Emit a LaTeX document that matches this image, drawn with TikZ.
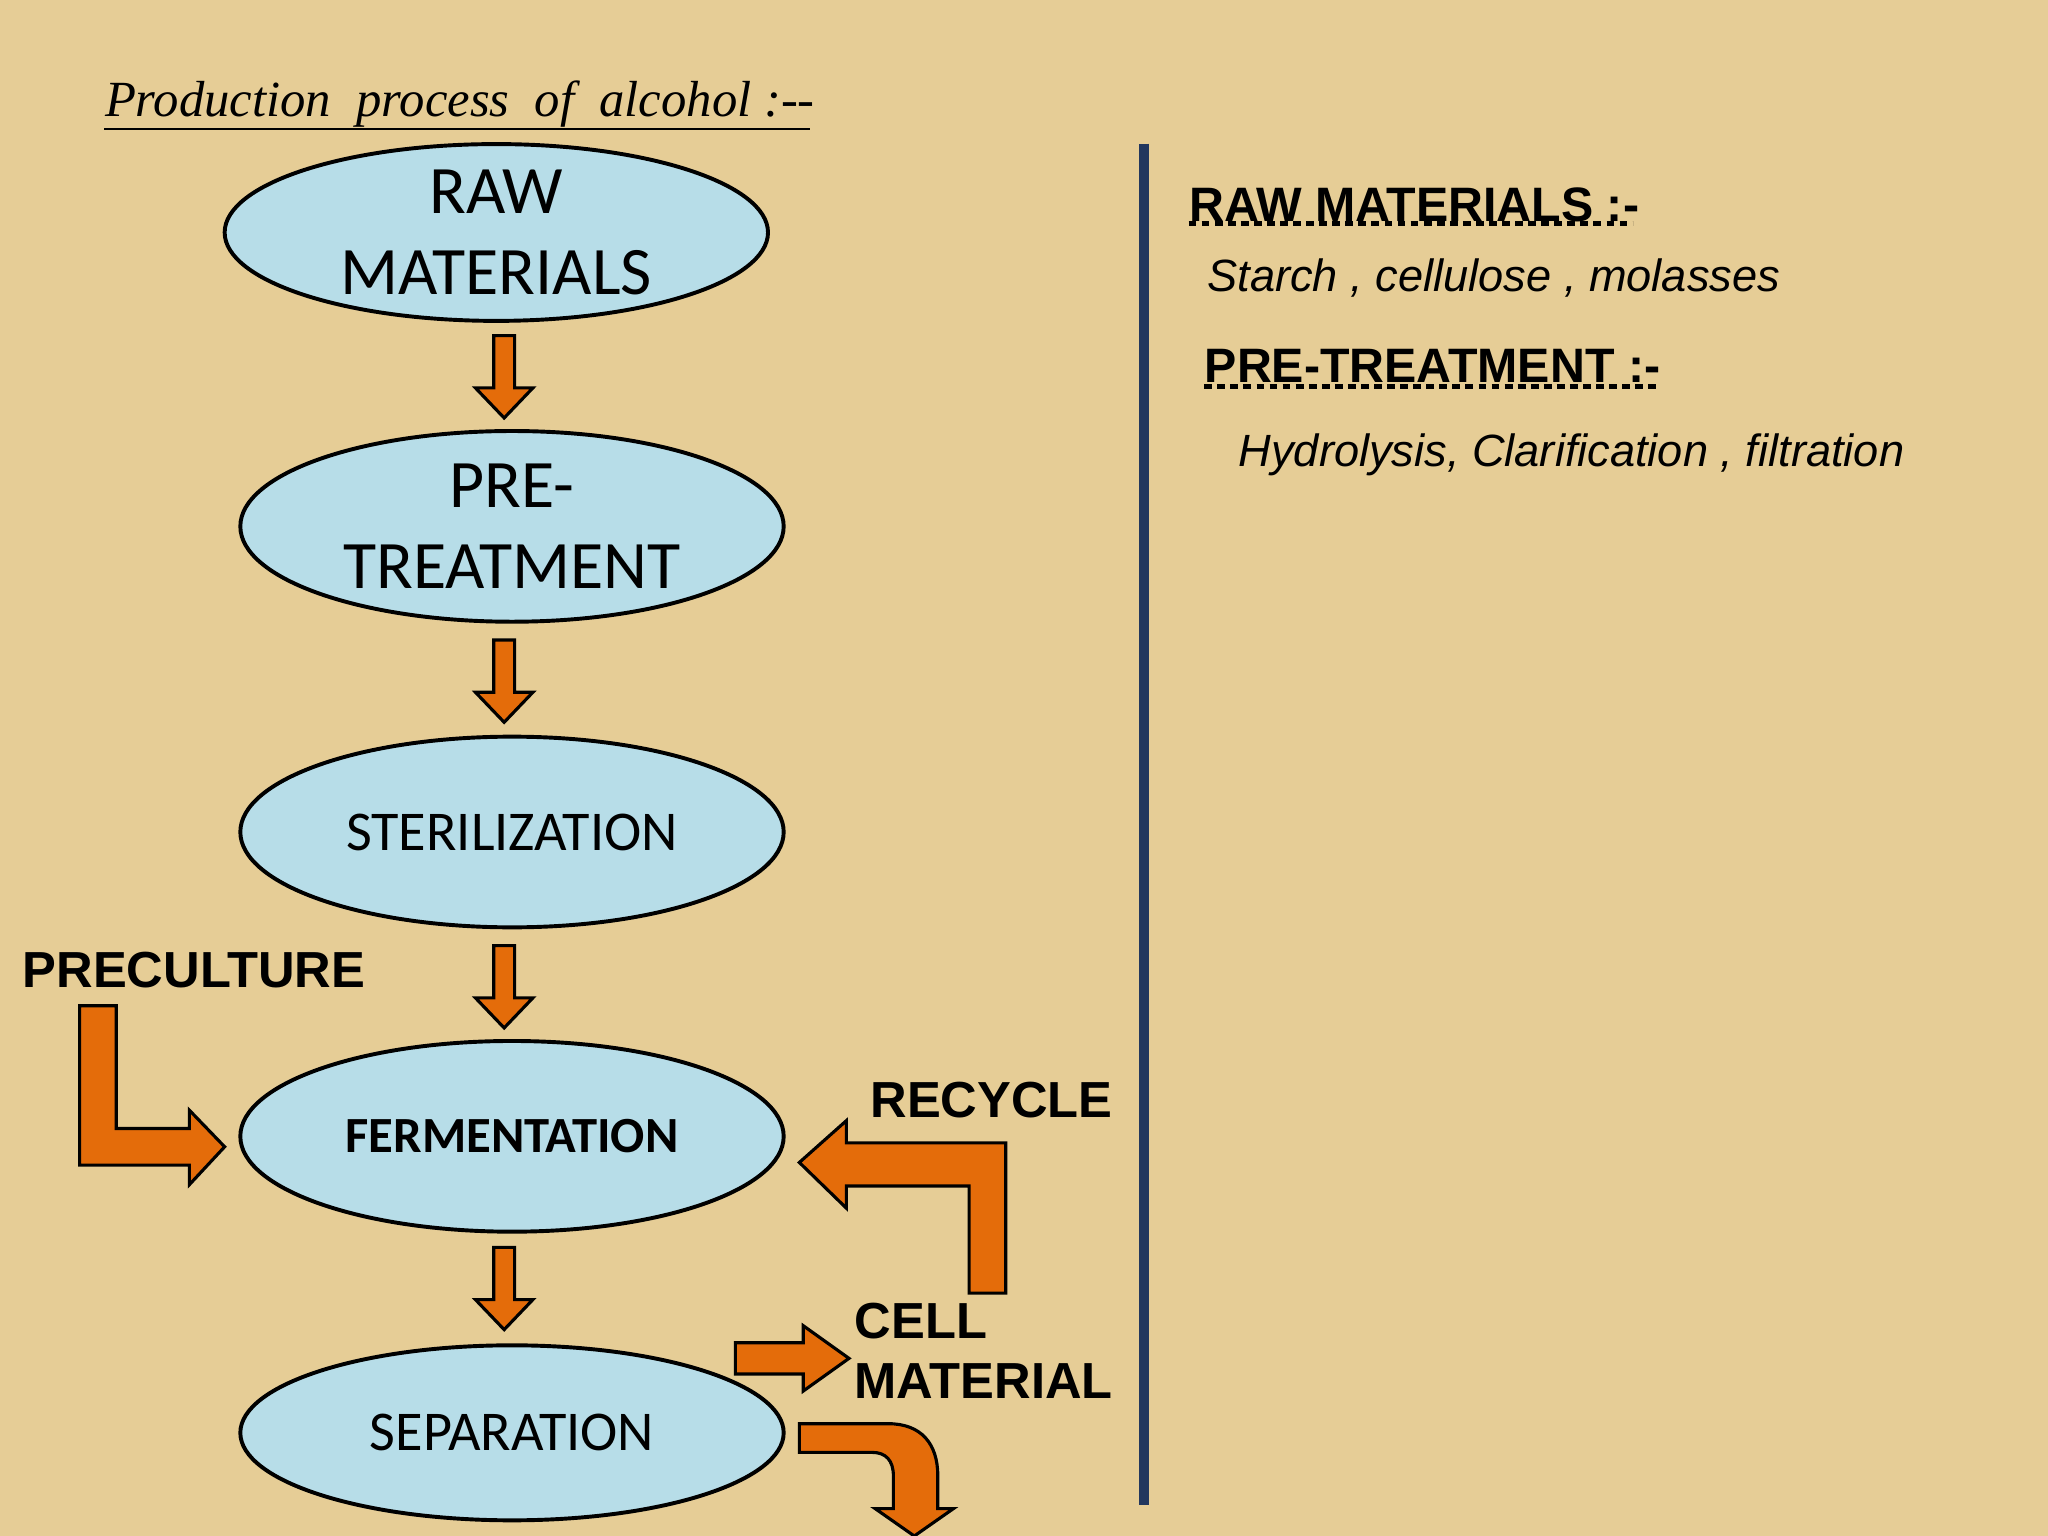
\documentclass[tikz,border=0pt]{standalone}
\usepackage{fontspec}
\setmainfont{Liberation Sans}
\newfontfamily\calfont{Carlito}
\newfontfamily\serfont{Liberation Serif}
\usetikzlibrary{shapes.geometric}
\definecolor{bg}{HTML}{E6CD96}
\definecolor{ell}{HTML}{B7DDE8}
\definecolor{org}{HTML}{E46C0A}
\definecolor{vline}{HTML}{22375E}
\tikzset{
 stage/.style={ellipse,draw=black,line width=1.5pt,fill=ell,minimum width=208pt,align=center,inner sep=0pt},
 blk/.style={fill=org,draw=black,line width=1.2pt,line join=miter},
 lbl/.style={font=\bfseries\fontsize{19.4}{22}\selectfont,inner sep=0pt},
}
\begin{document}
\begin{tikzpicture}[x=0.5pt,y=-0.5pt]
\fill[bg] (0,0) rectangle (1568,1176);
\useasboundingbox (0,0) rectangle (1568,1176);
\node[inner sep=0pt,anchor=west,font=\serfont\itshape\fontsize{19.4}{24}\selectfont] (title) at (80,80) {Production\ \ process\ \ of\ \ alcohol :--};
\draw[line width=0.8pt] (80,99) -- (620,99);
\node[stage,minimum height=67pt,font=\calfont\fontsize{26}{31}\selectfont] (raw) at (380,178) {RAW\\MATERIALS};
\node[stage,minimum height=73pt,font=\calfont\fontsize{26}{31}\selectfont] (pre) at (392,403) {PRE-\\TREATMENT};
\node[stage,minimum height=73pt,font=\calfont\fontsize{21.5}{24}\selectfont] (ste) at (392,637) {STERILIZATION};
\node[stage,minimum height=73pt,font=\calfont\bfseries\fontsize{19.4}{22}\selectfont] (fer) at (392,870) {FERMENTATION};
\node[stage,minimum height=67pt,font=\calfont\fontsize{21.5}{24}\selectfont] (sep) at (392,1097) {SEPARATION};
% down arrows
\foreach \y in {257,490,724,955}{
 \draw[blk] (378,\y) -- (394,\y) -- (394,\y+40) -- (408,\y+40) -- (386,\y+63) -- (364,\y+40) -- (378,\y+40) -- cycle;
}
\node[lbl,anchor=west] (pc) at (17,743) {PRECULTURE};
\draw[blk] (61,770) -- (89,770) -- (89,864) -- (145,864) -- (145,850) -- (172,878) -- (145,907) -- (145,892) -- (61,892) -- cycle;
\node[lbl,anchor=west] (rc) at (666,842) {RECYCLE};
\draw[blk] (770,990) -- (742,990) -- (742,908) -- (648,908) -- (648,925) -- (612,890) -- (648,858) -- (648,875) -- (770,875) -- cycle;
\node[lbl,anchor=north west,align=left,font=\bfseries\fontsize{19.4}{23}\selectfont] (cm) at (654,997) {CELL\\MATERIAL};
\draw[blk] (563,1028) -- (615,1028) -- (615,1015) -- (650,1040) -- (615,1065) -- (615,1052) -- (563,1052) -- cycle;
\draw[blk] (612,1090) -- (680,1090) .. controls (705,1090) and (718,1105) .. (718,1130) -- (718,1155) -- (730,1155) -- (700,1176) -- (670,1155) -- (684,1155) -- (684,1130) .. controls (684,1118) and (678,1112) .. (668,1112) -- (612,1112) -- cycle;
% vertical line
\draw[line width=4pt,vline] (876,110) -- (876,1152);
% right text
\node[inner sep=0pt,anchor=west,font=\bfseries\fontsize{18.5}{20}\selectfont] (t1) at (910,157) {RAW MATERIALS :-};
\draw[line width=2pt,dash pattern=on 3pt off 2pt] (910,171) -- (1250,171);
\node[inner sep=0pt,anchor=west,font=\itshape\fontsize{17.3}{20}\selectfont] (t2) at (924,213) {Starch , cellulose , molasses};
\node[inner sep=0pt,anchor=west,font=\bfseries\fontsize{18.5}{20}\selectfont] (t3) at (922,280) {PRE-TREATMENT :-};
\draw[line width=2pt,dash pattern=on 3pt off 2pt] (922,296) -- (1268,296);
\node[inner sep=0pt,anchor=west,font=\itshape\fontsize{17.3}{20}\selectfont] (t4) at (948,348) {Hydrolysis, Clarification , filtration};
\end{tikzpicture}
\end{document}
